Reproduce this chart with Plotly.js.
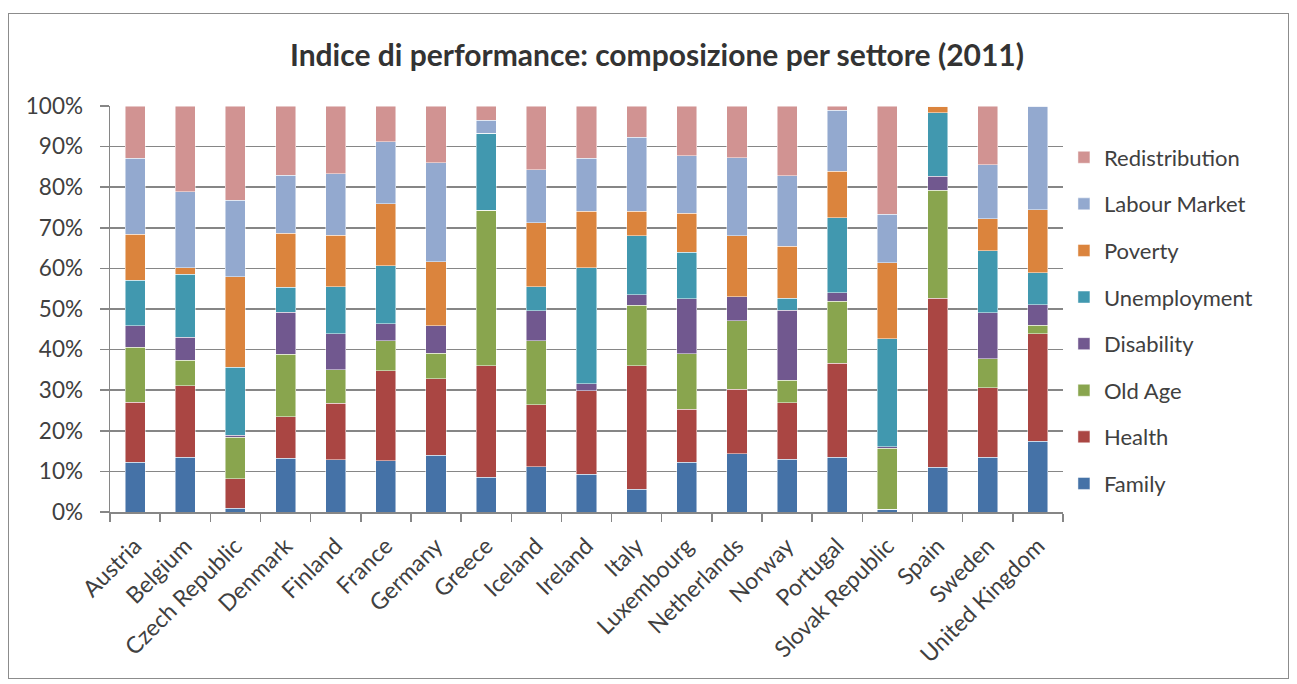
<!DOCTYPE html>
<html>
<head>
<meta charset="utf-8">
<script src="https://cdn.plot.ly/plotly-3.0.1.min.js"></script>
<style>
html,body{margin:0;padding:0;background:#fff;}
#wrap{position:relative;width:1297px;height:684px;}
#chart{width:1297px;height:684px;}
#frame{position:absolute;left:8px;top:13px;width:1281px;height:666px;border:1.5px solid #8c8c8c;box-sizing:border-box;pointer-events:none;}
</style>
</head>
<body>
<div id="wrap"><div id="chart"></div><div id="frame"></div></div>
<script>
const countries = ["Austria","Belgium","Czech Republic","Denmark","Finland","France","Germany","Greece","Iceland","Ireland","Italy","Luxembourg","Netherlands","Norway","Portugal","Slovak Republic","Spain","Sweden","United Kingdom"];

const family        = [12.2,13.5,0.9,13.2,12.9,12.6,14.0,8.5,11.2,9.3,5.6,12.2,14.4,13.0,13.5,0.7,11.0,13.5,17.4];
const health        = [14.8,17.6,7.3,10.3,13.9,22.2,18.8,27.5,15.2,20.6,30.4,13.1,15.8,13.9,23.2,0.0,41.6,17.1,26.5];
const oldAge        = [13.6,6.3,10.2,15.4,8.2,7.4,6.3,38.3,15.8,0.0,14.9,13.7,16.9,5.6,15.2,15.0,26.6,7.1,2.1];
const disability    = [5.3,5.6,0.5,10.3,8.9,4.2,6.8,0.0,7.4,1.7,2.6,13.5,5.9,17.2,2.1,0.4,3.5,11.4,5.0];
const unemployment  = [11.2,15.5,16.7,6.1,11.6,14.2,0.0,19.0,5.9,28.5,14.5,11.5,0.0,2.9,18.5,26.6,15.6,15.3,7.9];
const poverty       = [11.3,1.6,22.4,13.3,12.7,15.3,15.8,0.0,15.8,14.0,6.1,9.6,15.0,12.9,11.4,18.7,1.7,7.8,15.6];
const labourMarket  = [18.7,18.8,18.8,14.3,15.1,15.3,24.3,3.2,13.0,13.0,18.2,14.1,19.3,17.3,15.0,11.9,0.0,13.3,25.5];
const redistribution= [12.9,21.1,23.2,17.1,16.7,8.8,14.0,3.5,15.7,12.9,7.7,12.3,12.7,17.2,1.1,26.7,0.0,14.5,0.0];

const seriesNames = ["Family","Health","Old Age","Disability","Unemployment","Poverty","Labour Market","Redistribution"];
const seriesValues = [family,health,oldAge,disability,unemployment,poverty,labourMarket,redistribution];
const seriesColors = ["#4572A7","#AA4643","#89A54E","#71588F","#4198AF","#DB843D","#93A9CF","#D19392"];

const FONT = "Lato, 'Open Sans', sans-serif";
const traces = seriesNames.map((n,i)=>({
  type:"bar",
  name:n,
  x:countries,
  y:seriesValues[i],
  legendgroup:n,
  legendrank:seriesNames.length - i,
  marker:{color:seriesColors[i], line:{color:"rgba(255,255,255,0.6)", width:0.8}},
  hoverinfo:"x+y+name"
}));

const layout = {
  width:1297, height:684,
  margin:{l:110, r:234, t:106, b:172},
  paper_bgcolor:"#fff", plot_bgcolor:"#fff",
  barmode:"stack",
  barnorm:"percent",
  bargap:0.6,
  font:{family:FONT, color:"#404040", size:19},
  title:{text:"<b>Indice di performance: composizione per settore (2011)</b>",
         font:{family:FONT, size:30, color:"#333333"},
         x:657/1297, xref:"container", xanchor:"center", y:1-55/684, yref:"container", yanchor:"middle"},
  xaxis:{
    type:"category",
    tickangle:-45,
    tickson:"boundaries",
    ticks:"outside", ticklen:8, tickcolor:"#868686", tickwidth:1.5,
    showline:true, linecolor:"#868686", linewidth:1.5,
    showgrid:false,
    ticklabelstandoff:10,
    tickfont:{family:FONT, size:23, color:"#404040"}
  },
  yaxis:{
    range:[0,100],
    dtick:10,
    ticksuffix:"%",
    ticks:"outside", ticklen:9, tickcolor:"#868686", tickwidth:1.5,
    showline:true, linecolor:"#868686", linewidth:1.5,
    showgrid:true, gridcolor:"#868686", gridwidth:1.5,
    zeroline:false,
    ticklabelstandoff:12,
    tickfont:{family:FONT, size:22.5, color:"#404040"}
  },
  legend:{
    x:1.001, xanchor:"left", y:0.925, yanchor:"top",
    traceorder:"grouped",
    tracegroupgap:15,
    font:{family:FONT, size:22, color:"#404040"},
    bgcolor:"rgba(0,0,0,0)"
  }
};

Plotly.newPlot("chart", traces, layout, {displayModeBar:false, staticPlot:true});
</script>
</body>
</html>
